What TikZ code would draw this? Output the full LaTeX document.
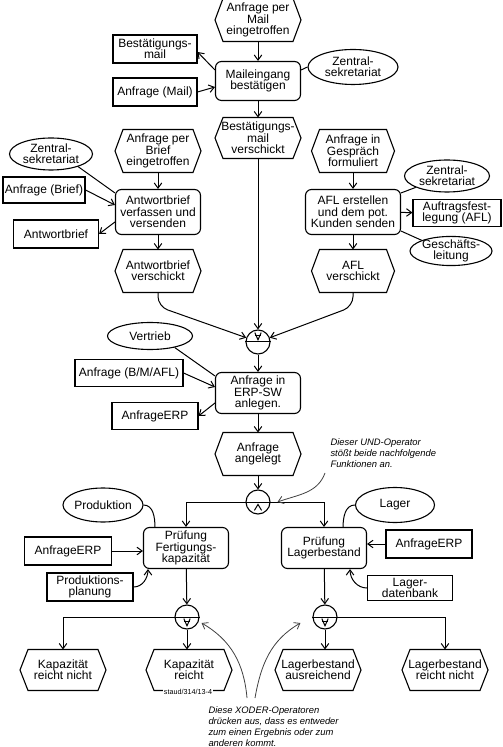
\documentclass[tikz,border=0pt]{standalone}
\usepackage{fontspec}
\setmainfont{Liberation Sans}
\usetikzlibrary{shapes.geometric, arrows.meta, positioning}

\newcommand{\opbar}[1]{\draw (#1.west) -- (#1.east);}
\newcommand{\xorup}[1]{\opbar{#1}
  \draw ([shift={(-1.5pt,3.3pt)}]#1.center) -- ++(3pt,0pt);
  \draw ([shift={(-1.6pt,4.7pt)}]#1.center) -- ([shift={(0pt,1.1pt)}]#1.center) -- ([shift={(1.6pt,4.7pt)}]#1.center);}
\newcommand{\xordown}[1]{\opbar{#1}
  \draw ([shift={(-1.5pt,-2.1pt)}]#1.center) -- ++(3pt,0pt);
  \draw ([shift={(-1.6pt,-0.8pt)}]#1.center) -- ([shift={(0pt,-4.4pt)}]#1.center) -- ([shift={(1.6pt,-0.8pt)}]#1.center);}
\newcommand{\anddown}[1]{\opbar{#1}
  \draw ([shift={(-1.8pt,-4.2pt)}]#1.center) -- ([shift={(0pt,-1.2pt)}]#1.center) -- ([shift={(1.8pt,-4.2pt)}]#1.center);}

\begin{document}
\begin{tikzpicture}[x=0.5pt, y=0.5pt, >={Straight Barb[length=2.6pt,width=3.8pt]},
  font=\fontsize{6}{5.7}\selectfont, line width=0.5pt,
  event/.style={rectangle, minimum width=42.5pt, minimum height=21pt, inner sep=0.5pt, align=center,
    append after command={\pgfextra{\draw[line width=0.55pt] ([xshift=4pt]\tikzlastnode.north west) -- ([xshift=-4pt]\tikzlastnode.north east)
      -- (\tikzlastnode.east) -- ([xshift=-4pt]\tikzlastnode.south east) -- ([xshift=4pt]\tikzlastnode.south west)
      -- (\tikzlastnode.west) -- cycle;}}},
  func/.style={rectangle, rounded corners=3pt, draw, line width=0.55pt, minimum width=42.5pt, minimum height=#1, inner sep=1pt, align=center},
  func/.default=20.5pt,
  info/.style={rectangle, draw, line width=0.55pt, minimum width=#1, minimum height=14pt, inner sep=1pt, align=center},
  info/.default=42pt,
  orgunit/.style={ellipse, draw, line width=0.55pt, minimum width=#1, minimum height=16pt, inner sep=-0.5pt, align=center},
  orgunit/.default=42pt,
  oper/.style={circle, draw, line width=0.55pt, minimum size=12pt, inner sep=0pt},
  note/.style={font=\fontsize{4.7}{5.6}\selectfont\itshape, align=left, inner sep=0pt},
  notearrow/.style={->, line width=0.4pt, black!75}]
  \useasboundingbox (0,0) rectangle (502,-747);

  \node[event] (mailev) at (258,-20) {Anfrage per\\Mail\\eingetroffen};
  \node[func=19.5pt] (mailfn) at (258,-81) {Maileingang\\bestätigen};
  \node[info] (bestmail) at (155,-49) {Bestätigungs-\\mail};
  \node[info] (anfmail) at (155,-92) {Anfrage (Mail)};
  \node[orgunit=45pt, minimum height=17.5pt] (zsmail) at (353,-67) {Zentral-\\sekretariat};
  \node[event, minimum height=20pt] (mailok) at (258,-138) {Bestätigungs-\\mail\\verschickt};

  \node[event] (briefev) at (158,-151) {Anfrage per\\Brief\\eingetroffen};
  \node[func=22.5pt] (brieffn) at (158,-212) {Antwortbrief\\verfassen und\\versenden};
  \node[orgunit=41.5pt] (zsbrief) at (51,-154) {Zentral-\\sekretariat};
  \node[info=41pt, minimum height=13pt] (anfbrief) at (44,-190) {Anfrage (Brief)};
  \node[info=42.5pt] (antwort) at (56,-234) {Antwortbrief};
  \node[event] (briefok) at (158,-271) {Antwortbrief\\verschickt};

  \node[event, minimum width=41pt] (gespev) at (353,-151) {Anfrage in\\Gespräch\\formuliert};
  \node[func=22.5pt, minimum width=47.5pt] (aflfn) at (353,-212) {AFL erstellen\\und dem pot.\\Kunden senden};
  \node[orgunit=42.5pt] (zsafl) at (447,-176) {Zentral-\\sekretariat};
  \node[info=44pt, minimum height=13pt] (aflbox) at (457,-213) {Auftragsfest-\\legung (AFL)};
  \node[orgunit=41pt, minimum height=14pt] (gl) at (451,-251) {Geschäfts-\\leitung};
  \node[event, minimum width=41pt] (aflok) at (353,-271) {AFL\\verschickt};

  \node[oper] (xorj) at (258,-342) {};
  \node[func] (erpfn) at (258,-393) {Anfrage in\\ERP-SW\\anlegen.};
  \node[orgunit=42.5pt, minimum height=13.5pt] (vertrieb) at (150,-336) {Vertrieb};
  \node[info=54pt, minimum height=13.5pt] (bmafl) at (129,-373) {Anfrage (B/M/AFL)};
  \node[info=43pt, minimum height=13.5pt] (anferp) at (155,-416) {AnfrageERP};
  \node[event] (erpev) at (258,-454) {Anfrage\\angelegt};
  \node[oper] (andop) at (258,-502) {};

  \node[func] (kapfn) at (186,-548) {Prüfung\\Fertigungs-\\kapazität};
  \node[orgunit=40pt, minimum height=17pt] (prod) at (103,-505) {Produktion};
  \node[info=43.5pt] (anferpk) at (68,-551) {AnfrageERP};
  \node[info=43pt] (prodpl) at (90,-587) {Produktions-\\planung};
  \node[func] (lagfn) at (324,-548) {Prüfung\\Lagerbestand};
  \node[orgunit=39.5pt, minimum height=17.5pt] (lager) at (395,-505) {Lager};
  \node[info=43pt] (anferpl) at (429,-544) {AnfrageERP};
  \node[info=42.5pt, minimum height=12.5pt] (lagdb) at (410,-588) {Lager-\\datenbank};
  \node[oper] (xork) at (187,-617) {};
  \node[oper] (xorl) at (325,-617) {};
  \node[event, minimum height=20pt] (kev1) at (63,-670) {Kapazität\\reicht nicht};
  \node[event, minimum height=20pt] (kev2) at (189,-670) {Kapazität\\reicht};
  \node[event, minimum height=20pt] (lev1) at (318,-670) {Lagerbestand\\ausreichend};
  \node[event, minimum height=20pt] (lev2) at (445,-670) {Lagerbestand\\reicht nicht};
  \node[fill=white, inner sep=0.3pt, font=\fontsize{3.6}{4}\selectfont] (staud) at (188,-692) {staud/314/13-4};

  \xorup{xorj}
  \anddown{andop}
  \xordown{xork}
  \xordown{xorl}

  \draw[->] (mailev) -- (mailfn);
  \draw[->] ([yshift=5.5pt]mailfn.west) -- ([yshift=-1.5pt]bestmail.east);
  \draw[->] (anfmail.east) -- ([yshift=-3pt]mailfn.west);
  \draw (zsmail.west) -- ([yshift=5.5pt]mailfn.east);
  \draw[->] (mailfn) -- (mailok);
  \draw[->] (mailok) -- (xorj);

  \draw[->] (briefev) -- (brieffn);
  \draw (zsbrief.-25) -- ([yshift=-2pt]brieffn.north west);
  \draw[->] (anfbrief.east) -- ([yshift=3.5pt]brieffn.west);
  \draw[->] ([yshift=-5pt]brieffn.west) -- (antwort.east);
  \draw[->] (brieffn) -- (briefok);
  \draw[->, rounded corners=5pt] (briefok.south) -- ++(0,-14) -- (xorj.160);

  \draw[->] (gespev) -- (aflfn);
  \draw (zsafl.200) -- ([yshift=-2pt]aflfn.north east);
  \draw[->] (aflfn) -- (aflbox);
  \draw (gl.160) -- ([yshift=2pt]aflfn.south east);
  \draw[->] (aflfn) -- (aflok);
  \draw[->, rounded corners=5pt] (aflok.south) -- ++(0,-14) -- (xorj.20);

  \draw[->] (xorj) -- (erpfn);
  \draw (vertrieb.-25) -- ([yshift=-2pt]erpfn.north west);
  \draw[->] (bmafl.east) -- ([yshift=3pt]erpfn.west);
  \draw[->] ([yshift=-5pt]erpfn.west) -- (anferp.east);
  \draw[->] (erpfn) -- (erpev);
  \draw[->] (erpev) -- (andop);
  \draw[->] (andop.west) -| (kapfn.north);
  \draw[->] (andop.east) -| (lagfn.north);

  \draw (prod.east) to[out=0, in=90] ([xshift=6pt]kapfn.north west);
  \draw[->] (anferpk.east) -- (anferpk.east -| kapfn.west);
  \draw[->] (prodpl.east) to[out=0, in=-90] ([xshift=2.5pt]kapfn.south west);
  \draw[->] (kapfn) -- (xork);
  \draw[->] (xork.west) -| (kev1.north);
  \draw[->] (xork.south) -- (xork.south |- kev2.north);

  \draw (lager.west) to[out=180, in=90] ([xshift=-12pt]lagfn.north east);
  \draw[->] (anferpl.west) -- (anferpl.west -| lagfn.east);
  \draw[->] (lagdb.west) to[out=180, in=-90] ([xshift=-8.5pt]lagfn.south east);
  \draw[->] (lagfn) -- (xorl);
  \draw[->] (xorl.south) -- (xorl.south |- lev1.north);
  \draw[->] (xorl.east) -| (lev2.north);

  \node[note, anchor=north west] (undnote) at (330,-438) {Dieser UND-Operator\\stößt beide nachfolgende\\Funktionen an.};
  \coordinate (undtail) at (325,-473);
  \draw[notearrow] (undtail) to[out=-110, in=20] ([xshift=3.5pt]andop.east);

  \node[note, anchor=north west] (xornote) at (208,-706) {Diese XODER-Operatoren\\drücken aus, dass es entweder\\zum einen Ergebnis oder zum\\anderen kommt.};
  \coordinate (xortailk) at (247,-698);
  \coordinate (xortaill) at (255,-698);
  \draw[notearrow] (xortailk) to[out=95, in=-30] ([shift={(1pt,-3pt)}]xork.east);
  \draw[notearrow] (xortaill) to[out=80, in=210] ([shift={(-6pt,-3pt)}]xorl.west);
\end{tikzpicture}
\end{document}
